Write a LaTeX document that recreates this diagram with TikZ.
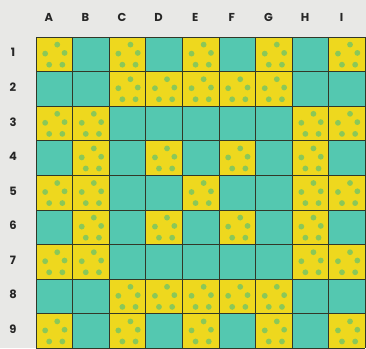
\documentclass[tikz,border=0pt]{standalone}
\usepackage{fontspec}
\setmainfont{Poppins}
\definecolor{qgyellow}{RGB}{238,216,30}
\definecolor{qgteal}{RGB}{84,200,176}
\definecolor{qgdot}{RGB}{138,200,88}
\definecolor{qgline}{RGB}{50,56,40}
\definecolor{qgpaper}{RGB}{232,232,230}
\usetikzlibrary{positioning}

\begin{document}
\begin{tikzpicture}[x=1pt,y=-1pt,
  qglabel/.style={font=\fontsize{11.5}{13}\selectfont\bfseries,text=black!85,inner sep=0pt},
  qgcell/.style={fill=qgyellow},
  qgdotstyle/.style={fill=qgdot},
  qggrid/.style={draw=qgline,line width=0.8pt}
]
  \def\cw{36.6}
  \def\ch{34.6}
  % Paper
  \fill[qgpaper] (0,0) rectangle (366,348);
  \useasboundingbox (0,0) rectangle (366,348);
  % Teal base
  \fill[qgteal] (36,37) rectangle ++(9*\cw,9*\ch);
  % Yellow dotted cells
  \foreach \c/\r in {1/1,3/1,5/1,7/1,9/1,
                     3/2,4/2,5/2,6/2,7/2,
                     1/3,2/3,8/3,9/3,
                     2/4,4/4,6/4,8/4,
                     1/5,2/5,5/5,8/5,9/5,
                     2/6,4/6,6/6,8/6,
                     1/7,2/7,8/7,9/7,
                     3/8,4/8,5/8,6/8,7/8,
                     1/9,3/9,5/9,7/9,9/9} {
    \fill[qgcell] ({36+(\c-1)*\cw},{37+(\r-1)*\ch}) rectangle ++(\cw,\ch);
    \foreach \dx/\dy in {0.58/0.22,0.25/0.48,0.78/0.46,0.36/0.80,0.72/0.80}
      \fill[qgdotstyle] ({36+(\c-1+\dx)*\cw},{37+(\r-1+\dy)*\ch}) circle (2.9);
  }
  % Grid lines
  \foreach \i in {0,...,9} {
    \draw[qggrid] ({36+\i*\cw},37) -- ++(0,9*\ch);
    \draw[qggrid] (36,{37+\i*\ch}) -- ++(9*\cw,0);
  }
  % Column labels
  \foreach \l [count=\i] in {A,B,C,D,E,F,G,H,I}
    \node[qglabel] (col\l) at ({36+(\i-0.65)*\cw},17) {\l};
  % Row labels
  \foreach \r in {1,...,9}
    \node[qglabel] (row\r) at (13,{37+(\r-0.55)*\ch}) {\r};
\end{tikzpicture}
\end{document}
